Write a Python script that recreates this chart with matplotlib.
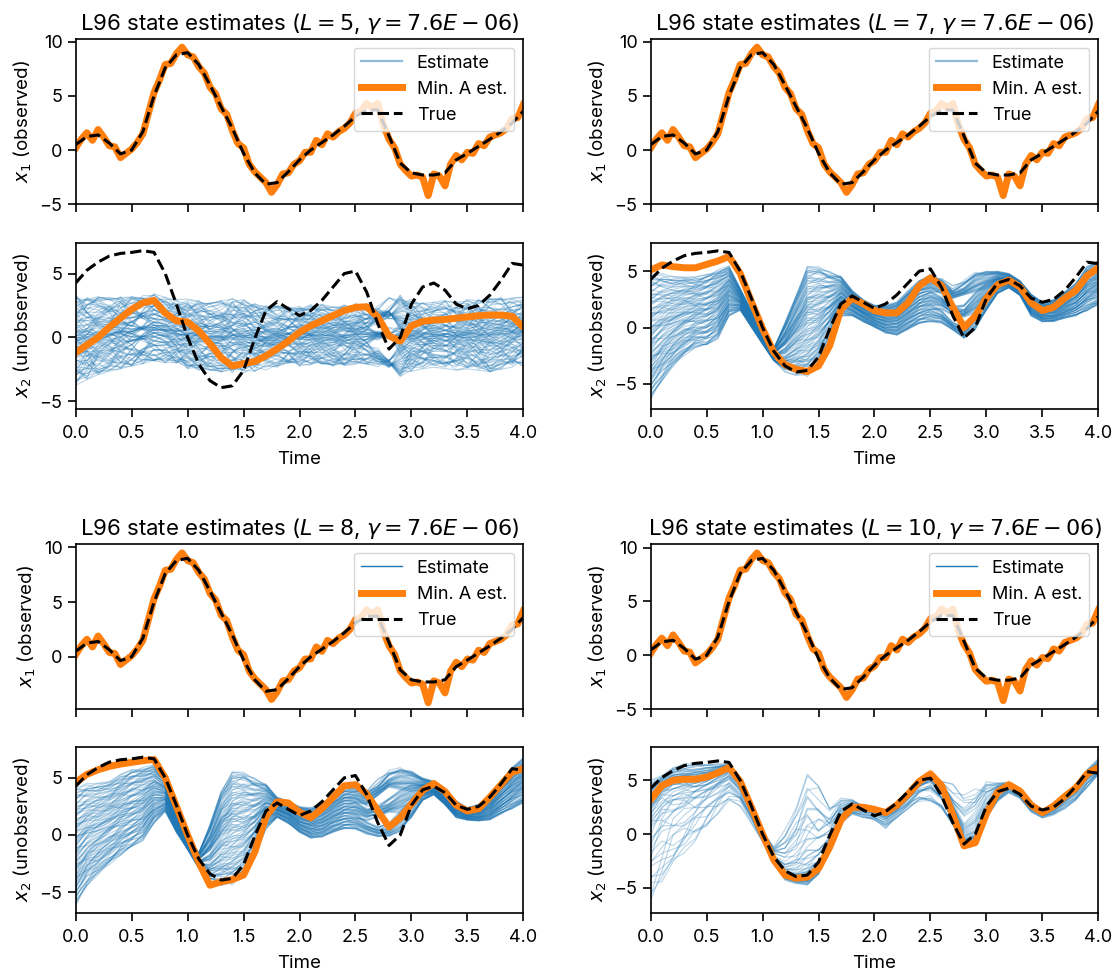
import numpy as np
import matplotlib.pyplot as plt
from matplotlib.lines import Line2D

plt.rcParams["font.family"] = ["Inter", "DejaVu Sans"]
plt.rcParams["mathtext.fontset"] = "dejavusans"
plt.rcParams["axes.linewidth"] = 1.2
plt.rcParams["xtick.major.width"] = 1.2
plt.rcParams["ytick.major.width"] = 1.2
plt.rcParams["xtick.major.size"] = 6
plt.rcParams["ytick.major.size"] = 6
plt.rcParams["xtick.major.pad"] = 5.5
plt.rcParams["xtick.labelsize"] = 13
plt.rcParams["ytick.labelsize"] = 13

BLUE = "#1f77b4"
ORANGE = "#ff7f0e"

# time grids (model output every 0.1, observed component every 0.05)
t_coarse = np.round(np.arange(41) * 0.1, 2)
t_fine = np.round(np.arange(81) * 0.05, 2)

# observed component x1: truth and the minimum-action estimate
x1_true = [0.5, 1.25, 1.4, 0.65, -0.35, 0.0, 1.7, 5.0, 7.6, 8.8,
           9.0, 7.9, 6.0, 4.0, 2.0, -0.3, -2.1, -3.15, -3.0, -2.0,
           -0.9, 0.0, 0.7, 1.4, 2.2, 3.1, 3.7, 3.7, 1.3, -1.2,
           -2.1, -2.3, -2.3, -2.1, -0.9, -0.3, 0.35, 1.0, 1.7, 2.5,
           3.6]
x1_min_a = [0.2, 1.0, 1.6, 0.9, 1.9, 1.2, 0.4, 0.3, -0.7, -0.3,
            0.1, 0.7, 1.5, 3.4, 5.3, 6.5, 7.9, 8.0, 8.9, 9.5,
            8.8, 8.6, 7.7, 7.1, 5.8, 5.2, 3.8, 3.3, 1.8, 0.6,
            0.2, -1.3, -2.0, -2.5, -3.0, -3.9, -3.2, -2.2, -2.1, -1.3,
            -1.0, -0.2, -0.2, 0.9, 0.5, 1.5, 1.2, 1.7, 2.0, 2.5,
            3.4, 3.6, 4.3, 3.9, 4.3, 2.3, 1.0, 0.2, -1.3, -1.9,
            -2.4, -2.3, -2.5, -4.2, -2.2, -2.4, -3.3, -1.3, -0.5, -0.9,
            -0.2, -0.3, 0.6, 0.4, 1.2, 1.4, 1.6, 2.0, 2.9, 3.0,
            4.2]

# unobserved component x2: truth
x2_true = [4.26, 5.26, 5.9, 6.37, 6.58, 6.66, 6.8, 6.66, 5.0, 2.6,
           0.0, -2.1, -3.4, -3.95, -3.8, -2.6, -0.1, 2.1, 2.8, 2.24,
           1.7, 2.1, 2.9, 3.95, 5.0, 5.2, 3.55, 1.05, -0.92, 0.0,
           2.6, 3.95, 4.26, 3.7, 2.6, 2.24, 2.5, 3.3, 4.47, 5.8,
           5.66]

# x2 minimum-action estimates for each embedding length
x2_min_a_L5 = [-1.2, -0.6, 0.0, 0.8, 1.5, 2.2, 2.7, 2.9, 1.9, 1.3,
               1.2, 0.5, -0.5, -1.6, -2.25, -2.05, -1.9, -1.45, -0.9, -0.3,
               0.4, 0.9, 1.3, 1.7, 2.1, 2.35, 2.4, 1.6, 0.1, -0.3,
               0.9, 1.25, 1.35, 1.4, 1.5, 1.6, 1.7, 1.75, 1.75, 1.65,
               0.8]
x2_min_a_L7 = [5.1, 5.55, 5.4, 5.3, 5.3, 5.6, 5.9, 6.3, 4.8, 2.3,
               -0.1, -2.2, -3.3, -3.7, -3.9, -3.4, -1.6, 1.6, 2.6, 2.1,
               1.5, 1.3, 1.3, 2.2, 3.7, 4.4, 3.7, 1.8, 0.0, 1.0,
               2.6, 3.8, 4.2, 3.6, 2.2, 1.5, 1.8, 2.6, 3.3, 4.6,
               5.3]
x2_min_a_L8 = [4.6, 5.3, 5.7, 6.0, 6.2, 6.35, 6.5, 6.6, 5.0, 2.5,
               0.0, -2.4, -4.4, -4.1, -3.9, -3.5, -1.5, 1.6, 2.9, 2.8,
               2.0, 1.5, 2.3, 3.3, 4.3, 4.4, 3.6, 2.1, 0.7, 1.5,
               2.7, 3.9, 4.5, 3.8, 2.6, 2.1, 2.3, 3.3, 4.4, 5.5,
               5.8]
x2_min_a_L10 = [3.2, 4.5, 5.0, 5.1, 5.1, 5.3, 5.7, 6.2, 4.9, 2.5,
                0.0, -2.4, -3.8, -4.1, -4.0, -3.2, -1.2, 1.3, 2.5, 2.5,
                2.3, 2.0, 2.7, 3.7, 4.9, 5.6, 4.5, 1.8, -1.1, -0.8,
                1.9, 3.9, 4.6, 4.0, 2.7, 2.0, 2.6, 3.5, 4.3, 5.6,
                6.2]

# lower / upper edge of the x2 estimate ensemble
x2_low_L5 = [-3.8, -3.4, -3.0, -2.7, -2.5, -2.4, -2.2, -2.0, -2.0, -2.2,
             -2.5, -2.6, -2.7, -2.8, -2.8, -2.8, -2.7, -2.6, -2.4, -2.3,
             -2.3, -2.2, -2.2, -2.3, -2.3, -2.2, -2.2, -2.4, -3.0, -3.1,
             -2.7, -2.5, -2.4, -2.5, -2.6, -2.5, -2.6, -2.8, -2.6, -2.4,
             -2.3]
x2_high_L5 = [3.4, 3.3, 3.2, 3.2, 3.2, 3.3, 3.4, 3.5, 3.2, 3.0,
              3.0, 2.9, 2.8, 2.9, 3.1, 3.0, 2.8, 2.6, 2.5, 2.6,
              2.5, 2.6, 2.6, 2.5, 2.6, 2.7, 2.7, 3.0, 3.6, 3.5,
              3.0, 2.8, 2.8, 2.9, 2.9, 3.0, 3.0, 3.1, 3.2, 3.2,
              3.2]
x2_low_L7 = [-6.4, -4.8, -3.5, -2.5, -1.8, -1.7, -1.0, 1.0, 1.5, 0.0,
             -1.5, -3.0, -4.0, -4.3, -4.5, -3.5, -1.5, 1.0, 1.0, 0.5,
             0.0, -0.5, -0.7, -0.2, 0.3, 0.5, 0.3, -0.5, -1.3, -0.2,
             1.5, 3.0, 3.5, 2.8, 1.0, 0.5, 0.5, 0.8, 1.0, 1.5,
             2.0]
x2_high_L7 = [4.8, 4.8, 4.6, 4.6, 4.5, 4.8, 5.2, 5.5, 3.5, 1.5,
              -0.3, -1.8, 0.5, 3.0, 5.5, 5.4, 5.0, 4.6, 3.3, 2.5,
              2.0, 2.0, 2.3, 3.3, 4.3, 4.8, 4.5, 3.8, 4.5, 5.0,
              5.0, 5.0, 4.8, 4.2, 3.0, 2.3, 2.5, 3.2, 4.0, 5.5,
              6.0]
x2_low_L8 = [-6.2, -4.5, -3.5, -2.6, -1.8, -1.2, -0.5, 1.0, 2.0, 0.2,
             -1.3, -3.0, -4.2, -4.5, -4.5, -3.8, -2.0, 0.5, 1.5, 1.0,
             0.2, -0.3, -0.2, 0.2, 0.5, 0.5, 0.0, -0.5, -0.5, 0.3,
             1.5, 3.0, 3.5, 2.6, 1.5, 1.3, 1.2, 1.3, 1.8, 2.3,
             2.8]
x2_high_L8 = [4.2, 4.5, 4.6, 4.8, 5.3, 5.8, 6.0, 6.2, 5.0, 2.0,
              0.0, -1.5, 1.0, 4.0, 5.6, 5.5, 5.0, 4.5, 3.3, 3.0,
              2.5, 2.4, 2.8, 3.5, 4.2, 4.3, 4.0, 5.0, 6.0, 6.0,
              5.6, 5.0, 4.7, 4.0, 3.0, 2.4, 2.7, 3.5, 4.8, 6.0,
              6.8]
x2_low_L10 = [-6.8, -5.0, -3.5, -2.0, -0.8, 0.5, 1.8, 3.0, 2.5, 1.0,
              -0.8, -2.8, -4.3, -4.6, -4.8, -3.8, -1.5, 1.0, 1.8, 1.5,
              1.2, 0.5, 1.5, 2.3, 3.0, 3.0, 2.0, 0.5, -1.3, -0.5,
              1.5, 3.0, 3.8, 3.2, 2.0, 1.5, 1.7, 2.3, 3.0, 4.3,
              5.5]
x2_high_L10 = [5.0, 5.5, 6.3, 6.6, 6.6, 6.6, 6.6, 6.5, 5.0, 2.5,
               0.3, -1.0, 0.5, 3.0, 6.0, 4.5, 2.8, 3.5, 3.2, 2.6,
               2.4, 2.3, 3.0, 4.0, 5.0, 5.5, 5.0, 4.7, 4.8, 4.6,
               4.9, 4.8, 4.8, 4.3, 3.0, 2.3, 2.8, 3.7, 4.6, 6.0,
               7.0]

L_values = [5, 7, 8, 10]
x2_min_a = [x2_min_a_L5, x2_min_a_L7, x2_min_a_L8, x2_min_a_L10]
x2_low = [x2_low_L5, x2_low_L7, x2_low_L8, x2_low_L10]
x2_high = [x2_high_L5, x2_high_L7, x2_high_L8, x2_high_L10]
x1_limits = [(-5.0, 10.3), (-5.0, 10.3), (-4.8, 10.35), (-5.0, 10.37)]
x2_limits = [(-5.6, 7.4), (-7.2, 7.5), (-6.8, 7.7), (-7.3, 8.1)]

# ensemble layout: how the members wander between the band edges
n_members = 100
anchor_t = np.arange(17) * 0.25
coprime = [m for m in range(1, 100) if m % 2 and m % 5]
drift = [0.6, 0.22, 0.22, 0.15]
jitter = [0.08, 0.04, 0.04, 0.03]
concentration = [1.3, 1.0, 1.0, 3.0]


def shuffled(m, c):
    k = np.arange(n_members)
    return ((k * m + c) % n_members + 0.5) / n_members


def member_paths(lo, hi, centre, conc, a_drift, a_jit):
    lo, hi, centre = np.asarray(lo), np.asarray(hi), np.asarray(centre)
    base = shuffled(1, 0)
    slow = np.array([shuffled(coprime[(3 * j + 5) % 40], 17 * j) for j in range(len(anchor_t))])
    fast = np.array([shuffled(coprime[(7 * j + 2) % 40], 31 * j) for j in range(len(t_coarse))])
    slow_t = np.array([np.interp(t_coarse, anchor_t, slow[:, i]) for i in range(n_members)])
    u = base[:, None] + a_drift * (slow_t - 0.5) + a_jit * (fast.T - 0.5)
    u = np.abs(u)
    u = 1 - np.abs(1 - u)
    s = 2 * u - 1
    s = np.sign(s) * np.abs(s) ** conc
    return np.where(s >= 0, centre + s * (hi - centre), centre + s * (centre - lo))


fig = plt.figure(figsize=(11.18, 9.75), dpi=100)
lefts = [0.0677, 0.5820, 0.0677, 0.5820]
x1_bottoms = [0.7905, 0.7905, 0.2725, 0.2725]
x2_bottoms = [0.5808, 0.5808, 0.0639, 0.0639]
w, h = 0.4004, 0.170

for i, L in enumerate(L_values):
    ax1 = fig.add_axes([lefts[i], x1_bottoms[i], w, h])
    ax2 = fig.add_axes([lefts[i], x2_bottoms[i], w, h], sharex=ax1)

    # top: observed variable
    ax1.plot(t_fine, x1_min_a, color=ORANGE, lw=5)
    ax1.plot(t_coarse, x1_true, color="k", ls="--", lw=2.2)
    ax1.set_ylim(*x1_limits[i])
    ax1.set_xlim(0, 4)
    ax1.set_xticks(np.arange(0, 4.01, 0.5))
    ax1.tick_params(labelbottom=False)
    ax1.set_ylabel("$x_1$ (observed)", fontsize=13.5)
    ax1.set_title(f"L96 state estimates ($L = {L}$, $\\gamma = 7.6E-06$)",
                  fontsize=16)

    faded = i < 2
    est_handle = Line2D([], [], color=BLUE, lw=1.6 if faded else 1.0,
                        alpha=0.5 if faded else 1.0)
    handles = [est_handle,
               Line2D([], [], color=ORANGE, lw=5),
               Line2D([], [], color="k", ls="--", lw=2.2)]
    ax1.legend(handles, ["Estimate", "Min. A est.", "True"], loc="upper right",
               fontsize=13, handlelength=2.3)

    # bottom: unobserved variable with the full ensemble
    if i == 3:
        centre = np.clip(x2_min_a[i], x2_low[i], x2_high[i])
    else:
        centre = (np.asarray(x2_low[i]) + np.asarray(x2_high[i])) / 2
    paths = member_paths(x2_low[i], x2_high[i], centre, concentration[i],
                         drift[i], jitter[i])
    for p in paths:
        ax2.plot(t_coarse, p, color=BLUE, lw=0.8, alpha=0.3)
    ax2.plot(t_coarse, x2_min_a[i], color=ORANGE, lw=5)
    ax2.plot(t_coarse, x2_true, color="k", ls="--", lw=2.2)
    ax2.set_ylim(*x2_limits[i])
    ax2.set_xlim(0, 4)
    ax2.set_ylabel("$x_2$ (unobserved)", fontsize=13.5)
    ax2.set_xlabel("Time", fontsize=13.5, labelpad=6.5)

fig.savefig("out.png", dpi=100)
